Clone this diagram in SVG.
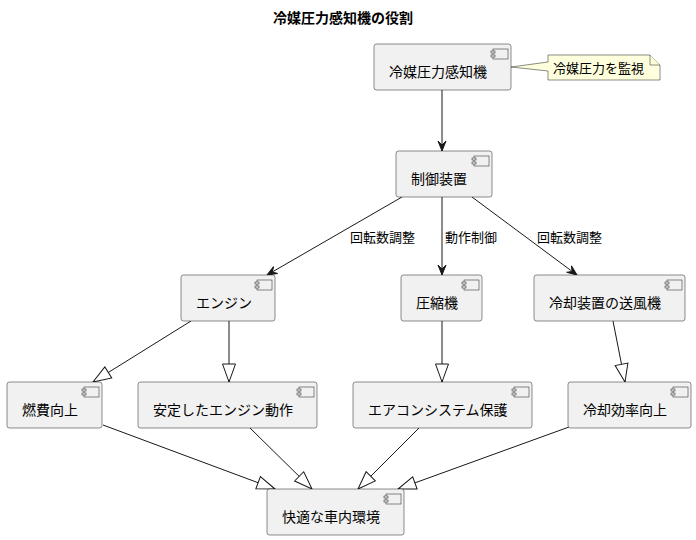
<svg xmlns="http://www.w3.org/2000/svg" width="696" height="540" viewBox="0 0 696 540">
<style>
.box{fill:#F1F1F1;stroke:#181818;stroke-width:0.5}
.ico{fill:#F1F1F1;stroke:#181818;stroke-width:0.5}
.lbl{font-family:"Noto Sans CJK JP","Noto Sans",sans-serif;font-size:14px;fill:#000}
.elbl{font-family:"Noto Sans CJK JP","Noto Sans",sans-serif;font-size:13px;fill:#000}
.title{font-family:"Noto Sans CJK JP","Noto Sans",sans-serif;font-size:14px;font-weight:bold;fill:#000}
.edge{stroke:#181818;stroke-width:1;fill:none}
.fa{marker-end:url(#filled)}
.oa{marker-end:url(#open)}
.note{fill:#FEFFDD;stroke:#181818;stroke-width:0.5}
</style>
<defs>
<marker id="filled" markerUnits="userSpaceOnUse" viewBox="-11 -5 12 10" refX="0" refY="0" markerWidth="12" markerHeight="10" orient="auto" overflow="visible">
<path d="M0,0 L-10,-4 L-6,0 L-10,4 Z" fill="#181818" stroke="#181818" stroke-width="1"/>
</marker>
<marker id="open" markerUnits="userSpaceOnUse" viewBox="-19 -8 20 16" refX="0" refY="0" markerWidth="20" markerHeight="16" orient="auto" overflow="visible">
<path d="M0,0 L-18,-6.5 L-18,6.5 Z" fill="#FFFFFF" stroke="#181818" stroke-width="1"/>
</marker>
<g id="cicon">
<rect x="-18" y="5" width="15" height="10"/>
<rect x="-20" y="7" width="4" height="2"/>
<rect x="-20" y="11" width="4" height="2"/>
</g>
</defs>
<rect width="696" height="540" fill="#FFFFFF"/>
<text class="title" x="343" y="23" text-anchor="middle">冷媒圧力感知機の役割</text>

<g id="connectors">
<path class="edge fa" d="M442,90 L442,151"/>
<path class="edge fa" d="M402,197 L267,275"/>
<path class="edge fa" d="M442,197 L442,275"/>
<path class="edge fa" d="M472,197 L577,275"/>
<text class="elbl" x="350" y="242">回転数調整</text>
<text class="elbl" x="445" y="242">動作制御</text>
<text class="elbl" x="537" y="242">回転数調整</text>
<path class="edge oa" d="M191,321 L93,382"/>
<path class="edge oa" d="M229,321 L229,382"/>
<path class="edge oa" d="M442,321 L442,382"/>
<path class="edge oa" d="M613,321 L625,382"/>
<path class="edge oa" d="M103,425 L275,489"/>
<path class="edge oa" d="M250,428 L312,489"/>
<path class="edge oa" d="M419,428 L358,489"/>
<path class="edge oa" d="M569,427 L398,489"/>
</g>

<g id="note">
<path class="note" d="M548,55 L548,62 L511,67 L548,71 L548,80 L660,80 L660,65 L650,55 Z"/>
<path class="note" d="M650,55 L650,65 L660,65" fill="none"/>
<text class="elbl" x="553" y="73">冷媒圧力を監視</text>
</g>

<g id="sensor">
<rect class="box" x="374" y="44" width="137" height="46" rx="2.5"/>
<use href="#cicon" class="ico" x="511" y="44"/>
<text class="lbl" x="389" y="77">冷媒圧力感知機</text>
</g>
<g id="controller">
<rect class="box" x="396" y="151" width="96" height="46" rx="2.5"/>
<use href="#cicon" class="ico" x="492" y="151"/>
<text class="lbl" x="411" y="184">制御装置</text>
</g>
<g id="engine">
<rect class="box" x="181" y="275" width="94" height="46" rx="2.5"/>
<use href="#cicon" class="ico" x="275" y="275"/>
<text class="lbl" x="196" y="308">エンジン</text>
</g>
<g id="compressor">
<rect class="box" x="401" y="275" width="81" height="46" rx="2.5"/>
<use href="#cicon" class="ico" x="482" y="275"/>
<text class="lbl" x="416" y="308">圧縮機</text>
</g>
<g id="fan">
<rect class="box" x="534" y="275" width="151" height="46" rx="2.5"/>
<use href="#cicon" class="ico" x="685" y="275"/>
<text class="lbl" x="549" y="308">冷却装置の送風機</text>
</g>
<g id="fuel">
<rect class="box" x="7" y="382" width="95" height="46" rx="2.5"/>
<use href="#cicon" class="ico" x="102" y="382"/>
<text class="lbl" x="22" y="415">燃費向上</text>
</g>
<g id="stable">
<rect class="box" x="138" y="382" width="179" height="46" rx="2.5"/>
<use href="#cicon" class="ico" x="317" y="382"/>
<text class="lbl" x="153" y="415">安定したエンジン動作</text>
</g>
<g id="protect">
<rect class="box" x="353" y="382" width="179" height="46" rx="2.5"/>
<use href="#cicon" class="ico" x="532" y="382"/>
<text class="lbl" x="368" y="415">エアコンシステム保護</text>
</g>
<g id="cooling">
<rect class="box" x="568" y="382" width="123" height="46" rx="2.5"/>
<use href="#cicon" class="ico" x="691" y="382"/>
<text class="lbl" x="583" y="415">冷却効率向上</text>
</g>
<g id="comfort">
<rect class="box" x="267" y="489" width="137" height="46" rx="2.5"/>
<use href="#cicon" class="ico" x="404" y="489"/>
<text class="lbl" x="282" y="522">快適な車内環境</text>
</g>
</svg>
